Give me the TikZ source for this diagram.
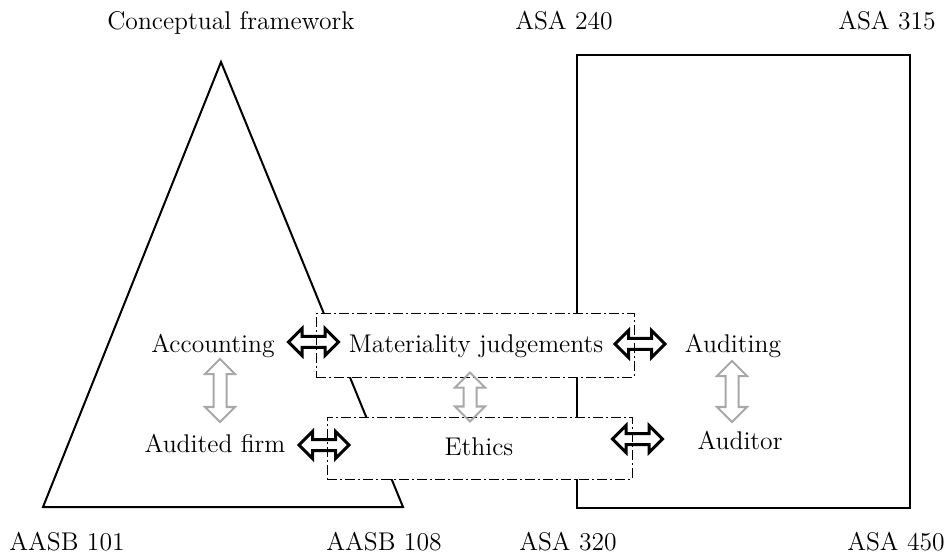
\documentclass[tikz,border=0pt]{standalone}
\usetikzlibrary{shapes.arrows,calc}
\definecolor{arrowgray}{RGB}{168,168,168}
\begin{document}
\begin{tikzpicture}[x=0.5pt,y=-0.5pt,
  lbl/.style={font=\fontsize{12.8}{15}\selectfont, inner sep=0pt, anchor=base},
  outline/.style={line width=1pt, line join=miter},
  dashbox/.style={draw, fill=white, line width=0.5pt, inner sep=0pt,
    dash pattern=on 5pt off 1.5pt on 1pt off 1.5pt},
  blackdbl/.style={double arrow, draw=black, line width=1.5pt, inner sep=2pt,
    double arrow head extend=4pt, minimum height=25pt},
  graydbl/.style={double arrow, draw=arrowgray, line width=1pt, inner sep=2.75pt,
    double arrow head extend=4.25pt, rotate=90}]
\useasboundingbox (0,0) rectangle (952,555);
% triangle and rectangle
\coordinate (apex) at (221,62);
\coordinate (tbl) at (43,507);
\coordinate (tbr) at (403,507);
\coordinate (rtl) at (577,55);
\coordinate (rbr) at (910,508);
\draw[outline] (apex) -- (tbr) -- (tbl) -- cycle;
\draw[outline] (rtl) rectangle (rbr);
% dash-dot boxes
\node[dashbox, minimum width=159pt, minimum height=31.5pt] (box1) at (475,345.5) {};
\node[dashbox, minimum width=152.5pt, minimum height=31pt] (box2) at (479.5,448) {};
% labels
\node[lbl] (cf) at (231,30) {Conceptual framework};
\node[lbl] (a240) at (564,30) {ASA 240};
\node[lbl] (a315) at (887,30) {ASA 315};
\node[lbl] (b101) at (67,550) {AASB 101};
\node[lbl] (b108) at (384,550) {AASB 108};
\node[lbl] (a320) at (568,550) {ASA 320};
\node[lbl] (a450) at (896,550) {ASA 450};
\node[lbl] (acc) at (213,352) {Accounting};
\node[lbl] (mat) at (476,352) {Materiality judgements};
\node[lbl] (aud) at (733,352) {Auditing};
\node[lbl] (firm) at (215,452) {Audited firm};
\node[lbl] (eth) at (479,455) {Ethics};
\node[lbl] (auditor) at (740,449) {Auditor};
% double arrows
\node[blackdbl] (d1) at (313.5,342) {};
\node[blackdbl] (d2) at (640,344) {};
\node[blackdbl] (d3) at (324,445) {};
\node[blackdbl] (d4) at (637.5,439) {};
\node[graydbl, minimum height=31.5pt] (g1) at (220,390.5) {};
\node[graydbl, minimum height=24.5pt] (g2) at (470,397) {};
\node[graydbl, minimum height=30.5pt] (g3) at (732,391.5) {};
\end{tikzpicture}
\end{document}
